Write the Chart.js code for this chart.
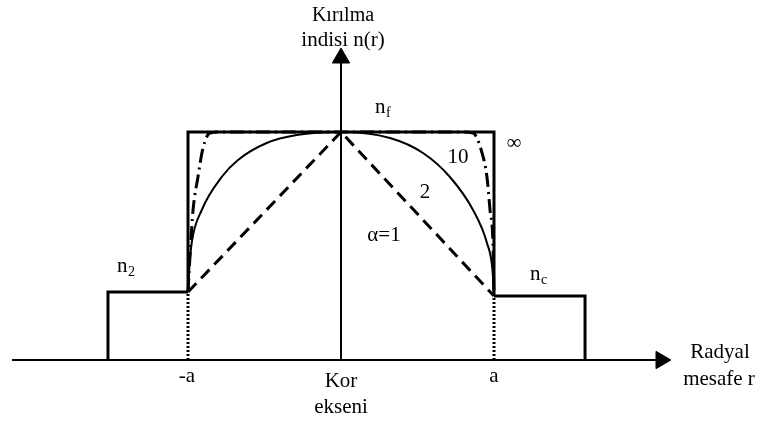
<!DOCTYPE html>
<html>
<head>
<meta charset="utf-8">
<script src="https://cdn.jsdelivr.net/npm/chart.js@4"></script>
<style>
    body { margin: 0; background: #fff; }
    canvas { display: block; }
</style>
</head>
<body>
<canvas id="chart" width="762" height="423"></canvas>
<script>
// r is radial distance in units of the core radius a, n is height above the axis
const stepR = [-1, -1, 1, 1];
const stepN = [68, 228, 228, 64];
const cladLeftR = [-1.523, -1.523, -1];
const cladLeftN = [0, 68, 68];
const cladRightR = [1, 1.595, 1.595];
const cladRightN = [64, 64, 0];
const linearR = [-1, 0, 1];
const linearN = [68, 228, 64];
const ellipseR = [-1, -0.99, -0.976, -0.91, -0.78, -0.673, -0.486, -0.29, 0, 0.32, 0.536, 0.712, 0.863, 0.954, 0.99, 1];
const ellipseN = [68, 95, 117, 150, 183, 200, 217, 225, 228, 222, 207, 183, 150, 117, 90, 64];
const alpha10R = [-1, -0.982, -0.967, -0.935, -0.902, -0.856, -0.758, 0, 0.778, 0.863, 0.922, 0.954, 0.974, 0.993, 1];
const alpha10N = [68, 117, 150, 183, 212, 227, 228, 228, 228, 227, 207, 183, 150, 117, 64];
const dotLeftR = [-1, -1];
const dotLeftN = [0, 68];
const dotRightR = [1, 1];
const dotRightN = [0, 64];
const axisXR = [-2.15, 2.09];
const axisXN = [0, 0];
const axisYR = [0, 0];
const axisYN = [0, 302];

const pts = (rs, ns) => rs.map((x, i) => ({ x, y: ns[i] }));

const FONT = "'Liberation Serif', 'Times New Roman', serif";

const labelPlugin = {
    id: "labels",
    afterDatasetsDraw(chart) {
        const ctx = chart.ctx;
        ctx.save();
        ctx.fillStyle = "#000";
        ctx.textBaseline = "alphabetic";
        const text = (s, x, y, size, align) => {
            ctx.font = size + "px " + FONT;
            ctx.textAlign = align || "center";
            ctx.fillText(s, x, y);
        };
        text("Kırılma", 343, 21, 20);
        text("indisi n(r)", 343, 46, 21);
        text("n", 375, 113, 21, "left");
        text("f", 386, 117, 14, "left");
        text("10", 458, 163, 21);
        text("∞", 514, 149, 21);
        text("2", 425, 198, 21);
        text("α=1", 384, 241, 21);
        text("n", 117, 272, 21, "left");
        text("2", 128, 276, 14, "left");
        text("n", 530, 280, 21, "left");
        text("c", 541, 284, 14, "left");
        text("-a", 187, 382, 21);
        text("a", 494, 382, 21);
        text("Kor", 341, 387, 21);
        text("ekseni", 341, 413, 21);
        text("Radyal", 720, 358, 21);
        text("mesafe r", 719, 385, 21);
        ctx.restore();
    }
};

const line = (data, width, dash, extra) => Object.assign({
    data,
    borderColor: "#000",
    borderWidth: width,
    borderDash: dash || [],
    pointRadius: 0,
    fill: false,
    tension: 0
}, extra || {});

new Chart(document.getElementById("chart"), {
    type: "line",
    data: {
        datasets: [
            line(pts(axisXR, axisXN), 2),
            line(pts(axisYR, axisYN), 2),
            line(pts(dotLeftR, dotLeftN), 3, [2, 2]),
            line(pts(dotRightR, dotRightN), 3, [2, 2]),
            line(pts(cladLeftR, cladLeftN), 3),
            line(pts(cladRightR, cladRightN), 3),
            line(pts(stepR, stepN), 3),
            line(pts(alpha10R, alpha10N), 3, [14, 5, 2, 5], { cubicInterpolationMode: "monotone" }),
            line(pts(ellipseR, ellipseN), 2, [], { cubicInterpolationMode: "monotone" }),
            line(pts(linearR, linearN), 3, [12, 7]),
            {
                data: [{ x: 2.0915, y: 0 }],
                showLine: false,
                pointStyle: "triangle",
                rotation: 90,
                pointRadius: 10,
                backgroundColor: "#000",
                borderColor: "#000",
                borderWidth: 1
            },
            {
                data: [{ x: 0, y: 302 }],
                showLine: false,
                pointStyle: "triangle",
                rotation: 0,
                pointRadius: 10,
                backgroundColor: "#000",
                borderColor: "#000",
                borderWidth: 1
            }
        ]
    },
    options: {
        responsive: false,
        animation: false,
        layout: { padding: 0, autoPadding: false },
        plugins: {
            legend: { display: false },
            tooltip: { enabled: false }
        },
        scales: {
            x: { type: "linear", display: false, min: -341 / 153, max: 421 / 153 },
            y: { type: "linear", display: false, min: -63, max: 360 }
        }
    },
    plugins: [labelPlugin]
});
</script>
</body>
</html>
